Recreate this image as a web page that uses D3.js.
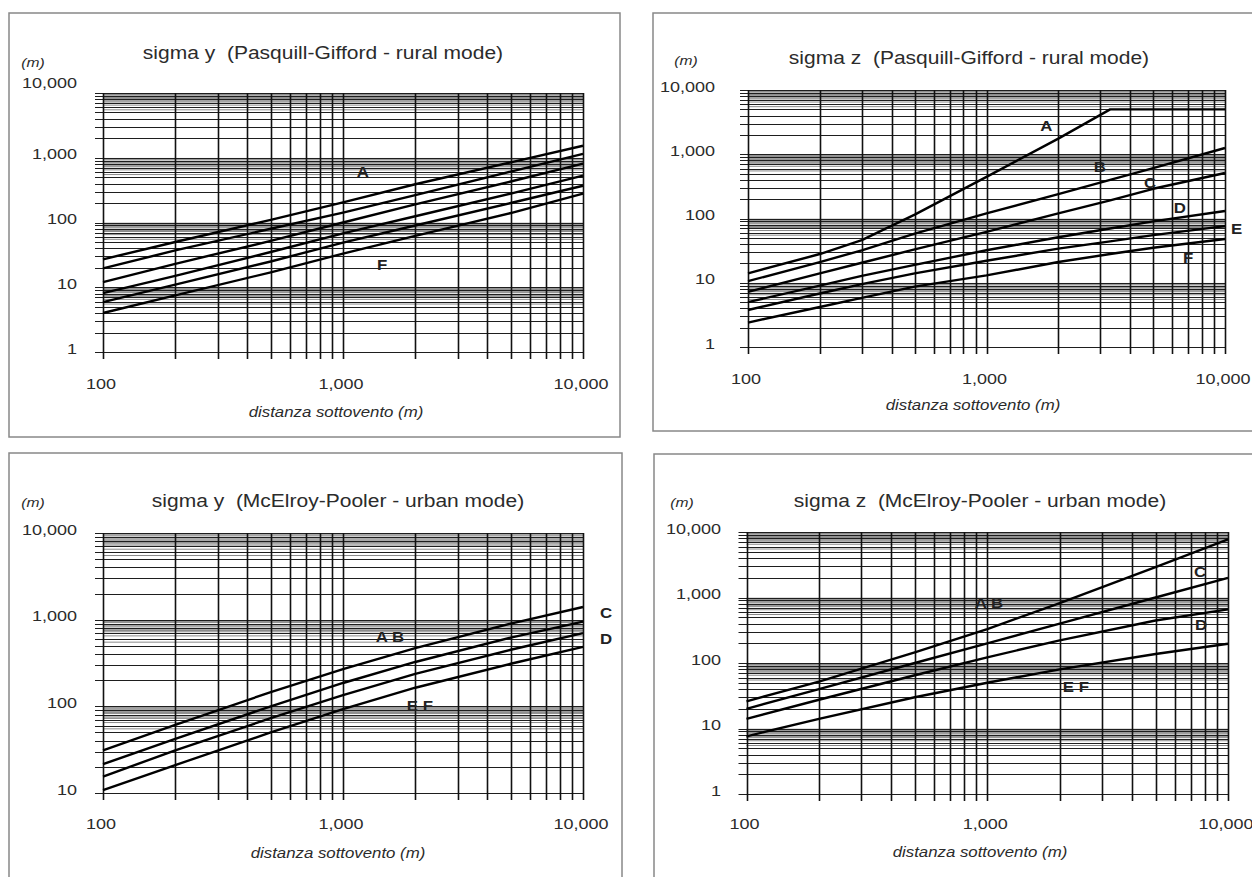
<!DOCTYPE html>
<html>
<head>
<meta charset="utf-8">
<script src="https://cdn.jsdelivr.net/npm/d3@7"></script>
<style>
  body { margin: 0; background: #fff; }
  svg { display: block; }
  text { font-family: "Liberation Sans", Arial, sans-serif; fill: #2b2b2b; }
</style>
</head>
<body>
<svg id="chart" width="1252" height="877"></svg>
<script>
// distances (m) used for the sigma y curves and the urban sigma z curves
var distances = [100, 200, 500, 1000, 2000, 5000, 10000];
// distances for the rural sigma z curves (class A levels off at 5000 m)
var distancesZ = [100, 200, 300, 500, 1000, 2000, 3300, 5000, 10000];

// sigma y, Pasquill-Gifford rural
var pgYA = [27, 50, 110, 205, 390, 850, 1530];
var pgYB = [19.6, 37, 80, 142, 265, 610, 1150];
var pgYC = [12, 23, 52, 100, 190, 430, 810];
var pgYD = [8.1, 15, 35, 68, 125, 280, 530];
var pgYE = [5.9, 11, 25, 49, 90, 200, 370];
var pgYF = [4.0, 7.5, 17, 33, 62, 140, 280];

// sigma z, Pasquill-Gifford rural
var pgZA = [14, 28, 46, 115, 445, 1750, 5000, 5000, 5000];
var pgZB = [10.6, 21, 32, 58, 120, 240, 400, 610, 1250];
var pgZC = [7.2, 14, 20.5, 33, 62, 120, 192, 290, 510];
var pgZD = [5.0, 9, 12.8, 19, 32, 51, 70, 90, 131];
var pgZE = [3.77, 6.8, 9.5, 14, 22, 34, 44, 55, 76];
var pgZF = [2.4, 4.2, 5.8, 8.7, 13, 21, 28, 35, 48];

// sigma y, McElroy-Pooler urban
var mpYAB = [31, 61, 146, 268, 470, 900, 1400];
var mpYC = [21.5, 42, 100, 186, 325, 620, 950];
var mpYD = [15.5, 31, 73, 135, 237, 450, 700];
var mpYEF = [10.8, 21, 50, 93, 164, 310, 485];

// sigma z, McElroy-Pooler urban
var mpZAB = [26, 52, 145, 330, 820, 2900, 7700];
var mpZC = [20, 40, 100, 200, 400, 1000, 2000];
var mpZD = [14, 27.5, 65, 122, 222, 445, 660];
var mpZEF = [7.6, 14, 30, 50, 80, 137, 197];

var xTicks = [100, 1000, 10000];
var yTicksWide = [1, 10, 100, 1000, 10000];
var yTicksUrbanY = [10, 100, 1000, 10000];

// class labels: [text, distance, value]
var labelsPgY = [["A", 1210, 600], ["F", 1455, 22]];
var labelsPgZ = [["A", 1780, 2750], ["B", 2990, 635], ["C", 4850, 357], ["D", 6470, 146], ["E", 11200, 69], ["F", 7000, 24]];
var labelsMpY = [["A B", 1570, 630], ["C", 12470, 1190], ["D", 12470, 597], ["E F", 2090, 101]];
var labelsMpZ = [["A B", 1016, 824], ["C", 7660, 2450], ["D", 7730, 380], ["E F", 2335, 43]];

var fmt = d3.format(",");
var svg = d3.select("#chart");

var panels = [
    { title: "sigma y  (Pasquill-Gifford - rural mode)",
      box: [9, 13, 620, 437], xr: [103, 583], yr: [352, 93], yd: [1, 10000], yTicks: yTicksWide,
      titleX: 323, titleY: 53, unitX: 33, unitY: 62, tickRight: 77, xLabY: 383, xTitleX: 336, xTitleY: 412,
      topNudge: -7, dist: distances, series: [pgYA, pgYB, pgYC, pgYD, pgYE, pgYF], labels: labelsPgY },
    { title: "sigma z  (Pasquill-Gifford - rural mode)",
      box: [653, 13, 1262, 431], xr: [748, 1225], yr: [347, 90], yd: [1, 10000], yTicks: yTicksWide,
      titleX: 969, titleY: 58, unitX: 686, unitY: 60, tickRight: 715, xLabY: 378, xTitleX: 973, xTitleY: 405,
      topNudge: 0, dist: distancesZ, series: [pgZA, pgZB, pgZC, pgZD, pgZE, pgZF], labels: labelsPgZ },
    { title: "sigma y  (McElroy-Pooler - urban mode)",
      box: [9, 453, 622, 884], xr: [103, 583], yr: [793, 533], yd: [10, 10000], yTicks: yTicksUrbanY,
      titleX: 338, titleY: 501, unitX: 33, unitY: 502, tickRight: 77, xLabY: 823, xTitleX: 338, xTitleY: 853,
      topNudge: 0, dist: distances, series: [mpYAB, mpYC, mpYD, mpYEF], labels: labelsMpY },
    { title: "sigma z  (McElroy-Pooler - urban mode)",
      box: [654, 454, 1262, 884], xr: [746.5, 1228], yr: [794, 532], yd: [1, 10000], yTicks: yTicksWide,
      titleX: 980, titleY: 501, unitX: 682, unitY: 502, tickRight: 721, xLabY: 823, xTitleX: 980, xTitleY: 852,
      topNudge: 0, dist: distances, series: [mpZAB, mpZC, mpZD, mpZEF], labels: labelsMpZ }
];

panels.forEach(function (p) {
    var g = svg.append("g");

    // outer frame
    g.append("rect")
        .attr("x", p.box[0]).attr("y", p.box[1])
        .attr("width", p.box[2] - p.box[0]).attr("height", p.box[3] - p.box[1])
        .attr("fill", "none").attr("stroke", "#888").attr("stroke-width", 1.5);

    var x = d3.scaleLog().domain([100, 10000]).range(p.xr);
    var y = d3.scaleLog().domain(p.yd).range(p.yr);

    // grid values on each decade
    var xGrid = [];
    for (var e = 2; e < 4; e++) {
        for (var k = 1; k < 10; k++) xGrid.push(k * Math.pow(10, e));
    }
    xGrid.push(10000);

    var yGrid = [], yFine = [];
    var e0 = Math.round(Math.log10(p.yd[0])), e1 = Math.round(Math.log10(p.yd[1]));
    for (var e = e0; e < e1; e++) {
        for (var k = 1; k < 10; k++) yGrid.push(k * Math.pow(10, e));
        [5.5, 6.5, 7.25, 7.5, 7.75, 8.25, 8.5, 8.75, 9.25, 9.5, 9.75].forEach(function (k) {
            yFine.push(k * Math.pow(10, e));
        });
    }
    yGrid.push(p.yd[1]);

    var left = p.xr[0], right = p.xr[1], top = p.yr[1], bottom = p.yr[0];

    g.selectAll(".hfine").data(yFine).enter().append("line")
        .attr("x1", left).attr("x2", right)
        .attr("y1", function (d) { return y(d); }).attr("y2", function (d) { return y(d); })
        .attr("stroke", "#8a8a8a").attr("stroke-width", 1);

    g.selectAll(".hgrid").data(yGrid).enter().append("line")
        .attr("x1", left - 8).attr("x2", right + 1)
        .attr("y1", function (d) { return Math.round(y(d)) + 0.5; }).attr("y2", function (d) { return Math.round(y(d)) + 0.5; })
        .attr("stroke", "#1e1e1e").attr("stroke-width", 1.2);

    g.selectAll(".vgrid").data(xGrid).enter().append("line")
        .attr("x1", function (d) { return Math.round(x(d)) + 0.5; }).attr("x2", function (d) { return Math.round(x(d)) + 0.5; })
        .attr("y1", top).attr("y2", bottom + 7)
        .attr("stroke", "#111").attr("stroke-width", 1.6);

    // curves
    var line = d3.line()
        .x(function (d) { return x(d[0]); })
        .y(function (d) { return y(d[1]); });

    p.series.forEach(function (vals) {
        g.append("path")
            .datum(p.dist.map(function (dd, i) { return [dd, vals[i]]; }))
            .attr("d", line)
            .attr("fill", "none").attr("stroke", "#000").attr("stroke-width", 2.4)
            .attr("stroke-linejoin", "round");
    });

    // class labels
    g.selectAll(".cls").data(p.labels).enter().append("text")
        .attr("x", function (d) { return x(d[1]); })
        .attr("y", function (d) { return y(d[2]); })
        .attr("text-anchor", "middle").attr("dominant-baseline", "central")
        .style("font-size", "14px").style("font-weight", "bold").style("fill", "#222")
        .text(function (d) { return d[0]; });

    // y tick labels
    g.selectAll(".ylab").data(p.yTicks).enter().append("text")
        .attr("x", p.tickRight)
        .attr("y", function (d) { return y(d) - 4 + (d === p.yd[1] ? p.topNudge : 0); })
        .attr("text-anchor", "end").attr("dominant-baseline", "central")
        .style("font-size", "15px")
        .text(function (d) { return fmt(d); });

    // x tick labels
    g.selectAll(".xlab").data(xTicks).enter().append("text")
        .attr("x", function (d) { return x(d) - 2; })
        .attr("y", p.xLabY)
        .attr("text-anchor", "middle").attr("dominant-baseline", "central")
        .style("font-size", "15px")
        .text(function (d) { return fmt(d); });

    g.append("text")
        .attr("x", p.xTitleX).attr("y", p.xTitleY)
        .attr("text-anchor", "middle").attr("dominant-baseline", "central")
        .style("font-size", "14px").style("font-style", "italic")
        .text("distanza sottovento (m)");

    g.append("text")
        .attr("x", p.unitX).attr("y", p.unitY)
        .attr("text-anchor", "middle").attr("dominant-baseline", "central")
        .style("font-size", "13px").style("font-style", "italic")
        .text("(m)");

    g.append("text")
        .attr("x", p.titleX).attr("y", p.titleY)
        .attr("text-anchor", "middle").attr("dominant-baseline", "central")
        .style("font-size", "17.5px")
        .attr("xml:space", "preserve")
        .text(p.title);
});

// the source picture is stretched sideways, so widen every text a bit
svg.selectAll("text").each(function () {
    var w = this.getComputedTextLength();
    d3.select(this).attr("textLength", w * 1.2).attr("lengthAdjust", "spacingAndGlyphs");
});
</script>
</body>
</html>
